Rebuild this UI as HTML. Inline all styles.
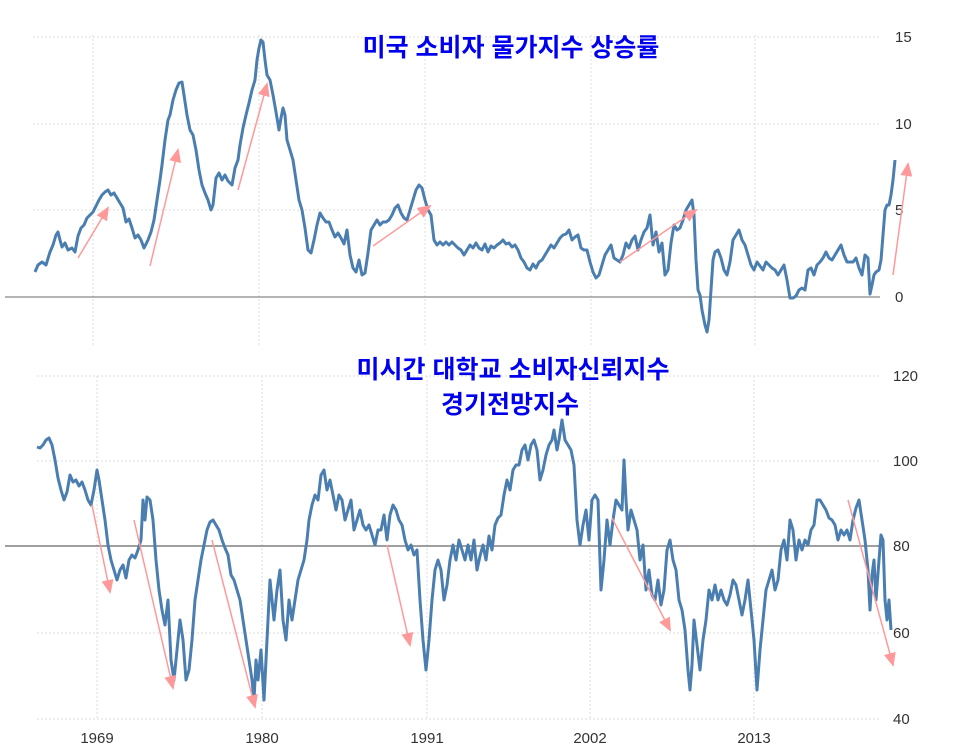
<!DOCTYPE html>
<html><head><meta charset="utf-8"><style>
body{margin:0;background:#fff;width:967px;height:755px;overflow:hidden}
svg{display:block}
.t{font-family:"Liberation Sans","Noto Sans CJK KR",sans-serif;font-weight:bold;fill:#0000ee;font-size:25px}
.a{font-family:"Liberation Sans",sans-serif;font-size:15px;fill:#333}
</style></head><body>
<svg width="967" height="755" viewBox="0 0 967 755">
<defs>
<marker id="ah2" markerWidth="14" markerHeight="14" refX="12" refY="7" orient="auto" markerUnits="userSpaceOnUse" viewBox="0 0 14 14"><path d="M0,1 L14,7 L0,13z" fill="#f99"/></marker></defs>
<g stroke="#ddd" stroke-dasharray="2,2" stroke-width="1">
<line x1="33" y1="37" x2="880" y2="37"/><line x1="33" y1="124" x2="880" y2="124"/><line x1="33" y1="210" x2="880" y2="210"/>
<line x1="93" y1="35" x2="93" y2="347"/><line x1="259" y1="35" x2="259" y2="347"/><line x1="425" y1="35" x2="425" y2="347"/><line x1="591" y1="35" x2="591" y2="347"/><line x1="755" y1="35" x2="755" y2="347"/>
<line x1="37" y1="376" x2="880" y2="376"/><line x1="37" y1="461" x2="880" y2="461"/><line x1="37" y1="633" x2="880" y2="633"/><line x1="37" y1="719" x2="880" y2="719"/>
<line x1="97" y1="376" x2="97" y2="720"/><line x1="262" y1="376" x2="262" y2="720"/><line x1="427" y1="376" x2="427" y2="720"/><line x1="590" y1="376" x2="590" y2="720"/><line x1="754" y1="376" x2="754" y2="720"/>
</g>
<line x1="5" y1="297" x2="880" y2="297" stroke="#888" stroke-width="1.2"/>
<line x1="5" y1="546" x2="880" y2="546" stroke="#666" stroke-width="1.2"/>
<g class="a"><text x="895" y="42">15</text><text x="895" y="129">10</text><text x="895" y="215">5</text><text x="895" y="302">0</text>
<text x="893" y="381">120</text><text x="893" y="466">100</text><text x="893" y="551">80</text><text x="893" y="638">60</text><text x="893" y="724">40</text>
<text x="97" y="743" text-anchor="middle">1969</text><text x="262" y="743" text-anchor="middle">1980</text><text x="427" y="743" text-anchor="middle">1991</text><text x="590" y="743" text-anchor="middle">2002</text><text x="754" y="743" text-anchor="middle">2013</text></g>
<polyline fill="none" stroke="#4a7eb0" stroke-width="3" stroke-linejoin="round" points="35,272 38,265 42,262 46,265 50,252 53,245 56,235 58,232 60,240 62,247 65,243 68,250 72,248 75,252 78,236 81,228 84,225 87,218 90,215 93,212 96,206 99,200 102,195 105,192 108,190 111,195 114,193 117,198 120,203 123,208 126,222 129,219 132,228 135,238 138,235 141,240 144,248 148,240 151,232 154,220 157,200 160,180 162,165 165,140 168,120 170,115 173,100 176,90 179,83 182,82 184,95 187,115 190,130 193,135 196,150 199,170 202,185 205,193 208,200 211,210 213,205 216,178 219,173 222,180 225,175 228,181 232,185 235,168 238,160 240,145 243,128 246,115 249,103 252,90 255,80 257,60 259,48 261,40 263,42 265,60 267,75 270,80 273,95 276,112 279,130 281,118 283,108 285,115 287,140 290,150 293,160 296,180 299,200 302,210 305,228 308,250 311,253 314,240 317,225 320,213 323,218 326,222 329,222 332,230 335,237 338,233 341,238 344,244 347,230 350,255 353,268 356,272 359,260 362,275 365,273 368,253 371,230 374,225 377,220 380,225 383,222 386,222 389,220 392,215 395,208 398,205 401,213 404,218 407,220 410,210 413,200 416,190 419,185 422,188 425,200 428,210 431,215 434,240 437,245 440,242 443,245 446,242 449,245 452,242 455,245 458,248 461,250 464,255 467,250 470,245 473,248 476,243 479,248 482,250 485,244 488,252 491,246 494,248 497,245 500,243 503,240 506,244 509,243 512,247 515,245 518,250 521,258 524,262 527,268 530,270 533,264 536,268 539,262 542,260 545,255 548,250 551,245 554,248 557,243 560,238 563,235 566,234 569,230 572,240 575,237 578,235 581,248 584,250 587,250 590,262 593,272 596,278 599,275 602,265 605,255 608,250 611,245 614,258 617,260 620,262 623,255 626,243 629,248 632,240 635,236 638,250 641,240 644,232 647,228 650,215 653,245 656,232 659,252 662,243 665,275 668,270 671,243 674,225 677,230 680,228 683,220 686,210 689,205 692,200 694,215 696,260 698,290 700,295 702,310 705,325 707,332 709,320 711,290 713,260 715,252 718,250 721,258 724,270 727,275 730,262 733,240 736,235 739,230 742,240 745,245 748,255 751,265 754,270 757,262 760,266 763,270 766,262 769,265 772,268 775,270 778,275 781,270 784,265 787,280 790,298 793,298 796,296 799,290 802,288 805,290 808,270 811,268 814,275 817,265 820,262 823,258 826,252 829,258 832,260 835,255 838,250 841,245 844,255 847,262 850,262 853,262 856,258 859,268 862,275 865,255 868,258 870,294 872,285 874,275 876,272 879,270 881,260 883,235 885,210 887,205 889,205 891,195 893,180 895,160"/>
<polyline fill="none" stroke="#4a7eb0" stroke-width="3" stroke-linejoin="round" points="37,447 40,448 43,445 46,440 49,438 52,445 55,460 58,478 61,490 64,500 67,492 70,475 73,482 76,480 79,486 82,482 85,490 88,500 91,505 94,490 97,470 99,480 102,500 105,520 108,545 111,560 114,570 117,580 120,570 123,565 126,578 129,560 132,555 135,558 138,550 141,540 143,500 145,520 147,497 150,500 153,520 156,560 159,590 162,610 165,625 168,600 171,660 174,680 177,650 180,620 183,640 186,680 189,670 192,640 195,600 198,580 201,560 204,545 207,530 210,522 213,520 216,525 219,530 222,540 225,548 228,555 231,575 234,580 237,590 240,600 243,620 246,640 249,660 252,680 254,700 256,660 258,680 261,650 264,700 266,660 268,620 270,580 272,600 274,620 277,590 280,570 283,620 286,640 289,600 292,620 295,600 298,580 301,570 304,560 307,540 309,520 312,505 315,495 318,500 321,475 324,470 327,490 330,480 333,495 336,510 339,495 342,500 345,520 348,510 351,500 354,530 357,520 360,510 363,525 366,530 369,525 372,535 375,545 378,530 381,530 384,515 387,540 390,515 393,505 396,510 399,520 402,525 405,540 408,550 411,545 414,555 417,550 420,600 423,640 426,670 429,640 432,600 435,570 438,560 441,570 444,600 447,585 450,560 453,545 456,560 459,540 462,550 465,560 468,545 471,560 474,540 477,570 480,556 483,545 486,560 489,536 492,550 495,525 498,518 501,515 504,495 507,480 510,490 513,470 516,465 519,465 522,450 525,445 528,460 531,445 534,440 537,450 540,480 543,470 546,455 549,445 552,440 554,430 557,450 559,440 562,420 565,440 568,445 571,450 574,465 577,520 580,545 583,525 586,510 589,540 592,500 595,495 598,500 601,590 604,560 607,520 610,545 613,520 616,500 619,505 622,510 624,460 626,500 628,530 631,510 634,520 637,530 640,560 643,545 646,590 649,570 652,595 655,600 658,580 661,605 664,590 667,550 670,540 673,560 676,570 679,600 682,610 685,630 688,670 690,690 692,665 694,620 697,645 700,670 703,640 706,620 709,590 712,600 715,585 718,600 721,590 724,600 727,605 730,595 733,580 736,585 739,600 742,615 745,600 748,580 751,610 754,640 757,690 760,650 763,620 766,590 769,580 772,570 775,590 778,580 781,550 784,540 787,560 790,520 793,530 796,560 799,540 802,550 805,540 808,545 811,530 814,525 817,500 820,500 823,505 826,510 829,518 832,520 835,525 838,540 841,530 844,535 847,530 850,540 853,520 856,508 859,500 862,520 865,540 868,570 870,610 872,575 874,560 876,600 879,560 881,535 883,540 885,600 887,620 889,600 891,630"/>
<g stroke="#f99" stroke-width="1.5" fill="none">
<line x1="78" y1="258" x2="108" y2="208" marker-end="url(#ah2)"/>
<line x1="150" y1="266" x2="178" y2="150" marker-end="url(#ah2)"/>
<line x1="238" y1="190" x2="267" y2="84" marker-end="url(#ah2)"/>
<line x1="373" y1="246" x2="430" y2="206" marker-end="url(#ah2)"/>
<line x1="620" y1="262" x2="696" y2="210" marker-end="url(#ah2)"/>
<line x1="893" y1="275" x2="908" y2="164" marker-end="url(#ah2)"/>
<line x1="92" y1="505" x2="110" y2="592" marker-end="url(#ah2)"/>
<line x1="134" y1="520" x2="173" y2="688" marker-end="url(#ah2)"/>
<line x1="212" y1="540" x2="255" y2="707" marker-end="url(#ah2)"/>
<line x1="387" y1="545" x2="410" y2="645" marker-end="url(#ah2)"/>
<line x1="612" y1="518" x2="670" y2="630" marker-end="url(#ah2)"/>
<line x1="848" y1="500" x2="893" y2="665" marker-end="url(#ah2)"/>
</g>
<text class="t" x="511" y="56" text-anchor="middle">미국 소비자 물가지수 상승률</text>
<text class="t" x="513" y="378" text-anchor="middle">미시간 대학교 소비자신뢰지수</text>
<text class="t" x="510" y="413" text-anchor="middle">경기전망지수</text>
</svg>
</body></html>
